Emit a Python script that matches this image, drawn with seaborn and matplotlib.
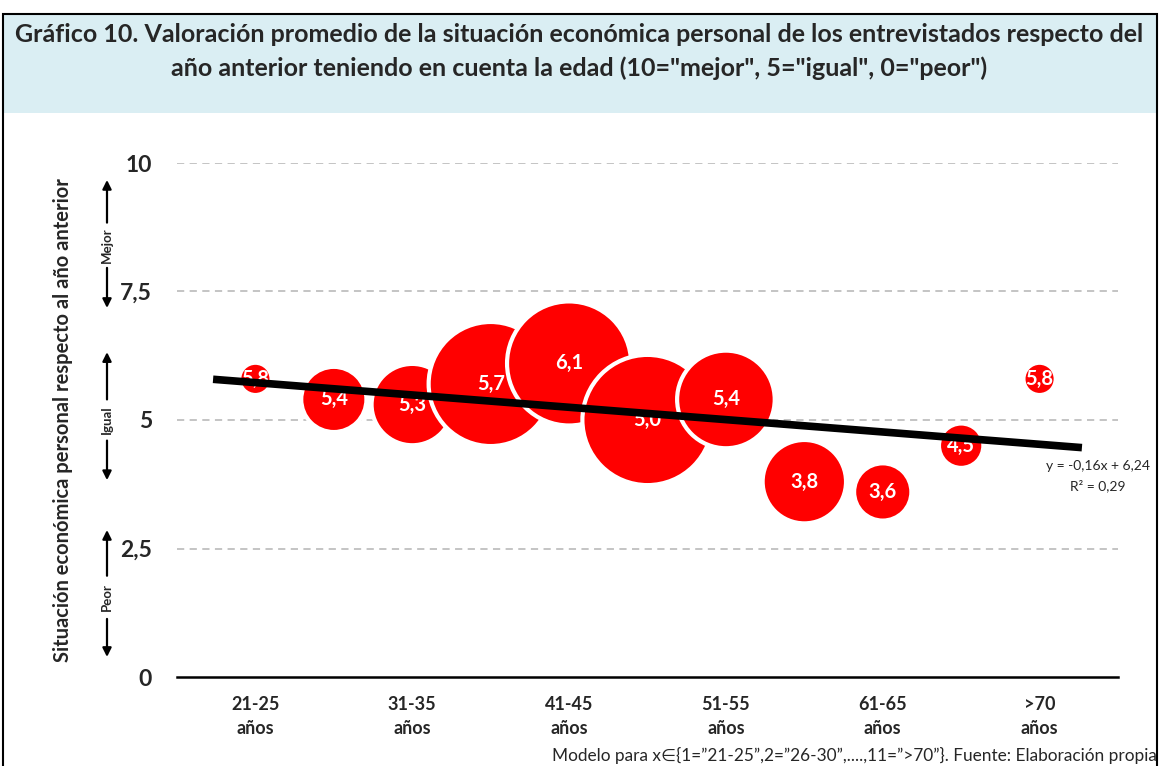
import numpy as np
import pandas as pd
import seaborn as sns
import matplotlib.pyplot as plt
from matplotlib.patches import Rectangle

# Datos
edades = ["21-25", "26-30", "31-35", "36-40", "41-45", "46-50",
          "51-55", "56-60", "61-65", "66-70", ">70"]
valoracion = [5.8, 5.4, 5.3, 5.7, 6.1, 5.0, 5.4, 3.8, 3.6, 4.5, 5.8]
# tamano relativo de la burbuja (numero de entrevistados, estimado)
entrevistados = [20, 96, 152, 360, 360, 397, 221, 160, 73, 42, 20]
etiquetas_y = ["0", "2,5", "5", "7,5", "10"]
ticks_y = [0, 2.5, 5, 7.5, 10]

df = pd.DataFrame({
    "x": np.arange(1, len(edades) + 1),
    "edad": edades,
    "valor": valoracion,
    "n": entrevistados,
})

sns.set_style("white")
plt.rcParams["font.family"] = ["Lato", "DejaVu Sans"]

fig = plt.figure(figsize=(11.59, 7.66), dpi=100)
ax = fig.add_axes([177 / 1159, 1 - 677 / 766, (1118 - 177) / 1159, (677 - 163) / 766])

# marco y cabecera
fig.patches.append(Rectangle((3 / 1159, 1 - 113 / 766), 1154 / 1159, 99 / 766,
                             transform=fig.transFigure, facecolor="#DAEEF3",
                             edgecolor="none", zorder=0))
fig.patches.append(Rectangle((3 / 1159, -0.1), 1154 / 1159, 1.1 - 14 / 766,
                             transform=fig.transFigure, facecolor="none",
                             edgecolor="black", linewidth=1.5, zorder=1))
fig.text(0.5, 1 - 35 / 766,
         "Gráfico 10. Valoración promedio de la situación económica personal de los entrevistados respecto del",
         ha="center", va="center", fontsize=18, fontweight="bold")
fig.text(0.5, 1 - 68 / 766,
         'año anterior teniendo en cuenta la edad (10="mejor", 5="igual", 0="peor")',
         ha="center", va="center", fontsize=18, fontweight="bold")

# rejilla
for t in ticks_y[1:]:
    ax.axhline(t, color="#BFBFBF", linestyle=(0, (4, 3)), linewidth=1.3, zorder=0)

# burbujas (area proporcional a n)
sns.scatterplot(data=df, x="x", y="valor", size="n",
                sizes=(540, 8790),
                color="#FF0000", edgecolor="white", linewidth=3,
                alpha=1, legend=False, ax=ax, zorder=2)

for _, r in df.iterrows():
    ax.text(r["x"], r["valor"], f"{r['valor']:.1f}".replace(".", ","),
            ha="center", va="center", color="white", fontsize=14.5,
            fontweight="bold", zorder=3)

# linea de tendencia
b, a = np.polyfit(df["x"], df["valor"], 1)
xs = np.array([0.46, 11.54])
ax.plot(xs, a + b * xs, color="black", linewidth=5.5, zorder=4,
        solid_capstyle="butt")
ax.text(11.74, 4.10, "y = -0,16x + 6,24", ha="center", va="center", fontsize=10)
ax.text(11.74, 3.72, "R² = 0,29", ha="center", va="center", fontsize=10)

# ejes
ax.set_xlim(0, 12)
ax.set_ylim(0, 10)
ax.set_xticks(range(0, 13))
ax.set_xticklabels([""] * 13)
for i in range(0, len(edades), 2):
    ax.text(i + 1, -0.36, edades[i] + "\naños", ha="center", va="top",
            fontsize=13, fontweight="bold", linespacing=1.55)
ax.set_yticks(ticks_y)
ax.set_yticklabels(etiquetas_y, fontsize=16.5, fontweight="bold")
ax.tick_params(axis="y", length=0, pad=18)
ax.tick_params(axis="x", length=8, width=1.3, direction="out", colors="black")
for s in ["top", "right", "left"]:
    ax.spines[s].set_visible(False)
ax.spines["bottom"].set_linewidth(1.8)
ax.spines["bottom"].set_color("black")
ax.set_xlabel("")
ax.set_ylabel("Situación económica personal respecto al año anterior",
              fontsize=14.5, fontweight="bold")
ax.yaxis.set_label_coords(-0.1105, 0.5)

# flechas Mejor / Igual / Peor
tr = ax.get_yaxis_transform()
xa = -70 / 941
for lab, yc, gap, top, bot in [("Mejor", 8.4, 0.44, 9.67, 7.18),
                               ("Igual", 5.0, 0.4, 6.32, 3.83),
                               ("Peor", 1.55, 0.42, 2.86, 0.39)]:
    ax.annotate("", xy=(xa, top), xytext=(xa, yc + gap), xycoords=tr,
                textcoords=tr, annotation_clip=False,
                arrowprops=dict(arrowstyle="-|>", color="black", lw=1.6,
                                mutation_scale=13, shrinkA=0, shrinkB=0))
    ax.annotate("", xy=(xa, bot), xytext=(xa, yc - gap), xycoords=tr,
                textcoords=tr, annotation_clip=False,
                arrowprops=dict(arrowstyle="-|>", color="black", lw=1.6,
                                mutation_scale=13, shrinkA=0, shrinkB=0))
    ax.text(xa, yc, lab, transform=tr, rotation=90, ha="center", va="center",
            fontsize=9.5, fontweight="bold")

fig.text(1157 / 1159, 1 - 755 / 766,
         'Modelo para x∈{1=”21-25”,2=”26-30”,....,11=”>70”}. Fuente: Elaboración propia',
         ha="right", va="center", fontsize=12.4)

fig.savefig("out.png", dpi=100)
